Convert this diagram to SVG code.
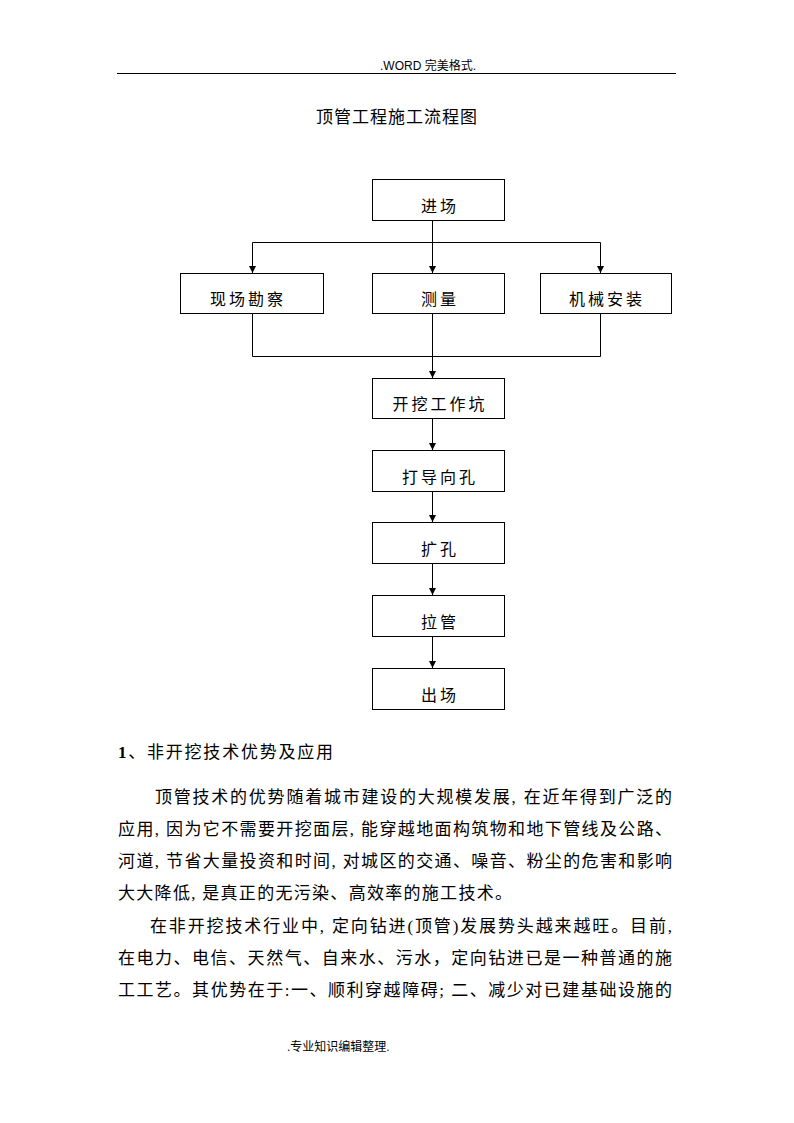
<svg xmlns="http://www.w3.org/2000/svg" width="794" height="1123" viewBox="0 0 794 1123">
<style>
.bg{fill:#fff}
.box{fill:#fff;stroke:#000;stroke-width:1}
.lbl{font-family:"Noto Sans CJK SC","Noto Sans",sans-serif;font-size:16px;fill:#000;text-anchor:middle;letter-spacing:3px}
.body{font-family:"Liberation Serif","Noto Sans CJK SC",serif;font-size:17px;fill:#000}
.small{font-family:"Liberation Sans","Noto Sans CJK SC",sans-serif;font-size:12px;fill:#000}
.title{font-family:"Noto Sans CJK SC",sans-serif;font-size:17px;fill:#000;text-anchor:middle}
.ln{fill:none;stroke:#000;stroke-width:1}
</style>
<defs>
<marker id="arr" viewBox="0 0 8 8" refX="8" refY="4" markerWidth="8" markerHeight="7" markerUnits="userSpaceOnUse" orient="auto">
<path d="M0,0 L8,4 L0,8 z" fill="#000"/>
</marker>
</defs>
<rect class="bg" x="0" y="0" width="794" height="1123"/>
<g id="header">
<text class="small" x="380" y="70">.WORD 完美格式.</text>
<line class="ln" x1="117" y1="73.5" x2="676" y2="73.5"/>
</g>
<text id="title" class="title" x="397" y="123" letter-spacing="1">顶管工程施工流程图</text>

<g id="connectors">
<path class="ln" d="M432.5,221 V242.5"/>
<path class="ln" d="M252.5,242.5 H600.5"/>
<path class="ln" d="M252.5,242.5 V273" marker-end="url(#arr)"/>
<path class="ln" d="M432.5,242.5 V273" marker-end="url(#arr)"/>
<path class="ln" d="M600.5,242.5 V273" marker-end="url(#arr)"/>
<path class="ln" d="M252.5,314 V356.5 H600.5 V314"/>
<path class="ln" d="M432.5,314 V378" marker-end="url(#arr)"/>
<path class="ln" d="M432.5,419 V450" marker-end="url(#arr)"/>
<path class="ln" d="M432.5,492 V522" marker-end="url(#arr)"/>
<path class="ln" d="M432.5,564 V595" marker-end="url(#arr)"/>
<path class="ln" d="M432.5,637 V668" marker-end="url(#arr)"/>
</g>

<g id="n-jinchang"><rect class="box" x="372.5" y="179.5" width="132" height="41"/><text class="lbl" x="440" y="212">进场</text></g>
<g id="n-kancha"><rect class="box" x="180.5" y="273.5" width="143" height="40"/><text class="lbl" x="248" y="305">现场勘察</text></g>
<g id="n-celiang"><rect class="box" x="372.5" y="273.5" width="132" height="40"/><text class="lbl" x="440" y="305">测量</text></g>
<g id="n-jixie"><rect class="box" x="540.5" y="273.5" width="131" height="40"/><text class="lbl" x="607" y="305">机械安装</text></g>
<g id="n-kaiwa"><rect class="box" x="372.5" y="378.5" width="132" height="40"/><text class="lbl" x="440" y="410">开挖工作坑</text></g>
<g id="n-daoxiang"><rect class="box" x="372.5" y="450.5" width="132" height="41"/><text class="lbl" x="440" y="483">打导向孔</text></g>
<g id="n-kuokong"><rect class="box" x="372.5" y="522.5" width="132" height="41"/><text class="lbl" x="440" y="555">扩孔</text></g>
<g id="n-laguan"><rect class="box" x="372.5" y="595.5" width="132" height="41"/><text class="lbl" x="440" y="628">拉管</text></g>
<g id="n-chuchang"><rect class="box" x="372.5" y="668.5" width="132" height="41"/><text class="lbl" x="440" y="701">出场</text></g>

<g id="body">
<text class="body" x="118" y="758" textLength="215" lengthAdjust="spacing"><tspan font-weight="bold">1</tspan>、非开挖技术优势及应用</text>
<text class="body" x="155" y="803" textLength="517" lengthAdjust="spacing">顶管技术的优势随着城市建设的大规模发展, 在近年得到广泛的</text>
<text class="body" x="118" y="835" textLength="554" lengthAdjust="spacing">应用, 因为它不需要开挖面层, 能穿越地面构筑物和地下管线及公路、</text>
<text class="body" x="118" y="867" textLength="554" lengthAdjust="spacing">河道, 节省大量投资和时间, 对城区的交通、噪音、粉尘的危害和影响</text>
<text class="body" x="118" y="899" textLength="394" lengthAdjust="spacing">大大降低, 是真正的无污染、高效率的施工技术。</text>
<text class="body" x="150" y="932" textLength="522" lengthAdjust="spacing">在非开挖技术行业中, 定向钻进(顶管)发展势头越来越旺。目前,</text>
<text class="body" x="118" y="964" textLength="554" lengthAdjust="spacing">在电力、电信、天然气、自来水、污水，定向钻进已是一种普通的施</text>
<text class="body" x="118" y="996" textLength="554" lengthAdjust="spacing">工工艺。其优势在于:一、顺利穿越障碍; 二、减少对已建基础设施的</text>
</g>
<text id="footer" class="small" x="287" y="1051">.专业知识编辑整理.</text>
</svg>
